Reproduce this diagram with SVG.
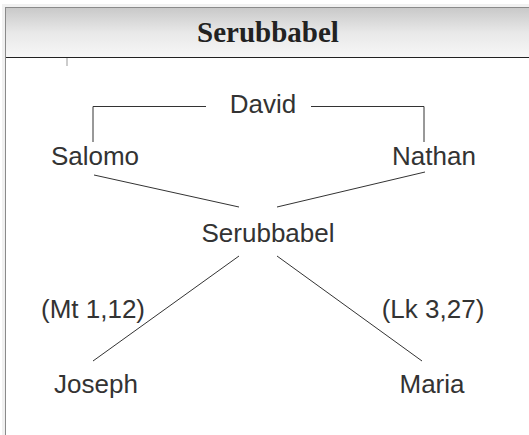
<svg xmlns="http://www.w3.org/2000/svg" width="529" height="435" viewBox="0 0 529 435">
<defs>
<linearGradient id="hdr" x1="0" y1="0" x2="0" y2="1">
<stop offset="0" stop-color="#c9c9c9"/>
<stop offset="0.5" stop-color="#e8e8e8"/>
<stop offset="1" stop-color="#f7f7f7"/>
</linearGradient>
</defs>
<style>
.n{font-family:"Liberation Sans",Arial,sans-serif;font-size:26px;fill:#333;text-anchor:middle}
.c line,.c path{stroke:#333;stroke-width:1;fill:none}
</style>
<rect x="0" y="0" width="529" height="435" fill="#fff"/>
<rect x="2" y="4" width="540" height="440" fill="#f1f1f1"/>
<rect x="5.5" y="7.5" width="540" height="440" fill="#fff" stroke="#8a8a8a" stroke-width="1"/>
<rect x="6" y="8" width="530" height="49" fill="url(#hdr)"/>
<line x1="6" y1="57.5" x2="529" y2="57.5" stroke="#222" stroke-width="1.2"/>
<text x="268" y="41.5" font-family="'Liberation Serif','Times New Roman',serif" font-weight="bold" font-size="29" fill="#222" text-anchor="middle">Serubbabel</text>
<line x1="67" y1="58" x2="67" y2="66" stroke="#999" stroke-width="1"/>
<g class="c" id="connectors">
<path d="M93 142 V106.5 H206"/>
<path d="M311 106.5 H424 V142"/>
<line x1="94" y1="175" x2="239" y2="207"/>
<line x1="425" y1="172" x2="277" y2="207"/>
<line x1="239" y1="256" x2="93" y2="361"/>
<line x1="277" y1="256" x2="422" y2="361"/>
</g>
<g id="david"><text class="n" x="263" y="113">David</text></g>
<g id="salomo"><text class="n" x="95" y="165">Salomo</text></g>
<g id="nathan"><text class="n" x="434" y="165">Nathan</text></g>
<g id="serubbabel"><text class="n" x="268" y="242">Serubbabel</text></g>
<g id="label-mt"><text class="n" x="93" y="318">(Mt 1,12)</text></g>
<g id="label-lk"><text class="n" x="433" y="318">(Lk 3,27)</text></g>
<g id="joseph"><text class="n" x="96" y="393">Joseph</text></g>
<g id="maria"><text class="n" x="432" y="393">Maria</text></g>
</svg>
